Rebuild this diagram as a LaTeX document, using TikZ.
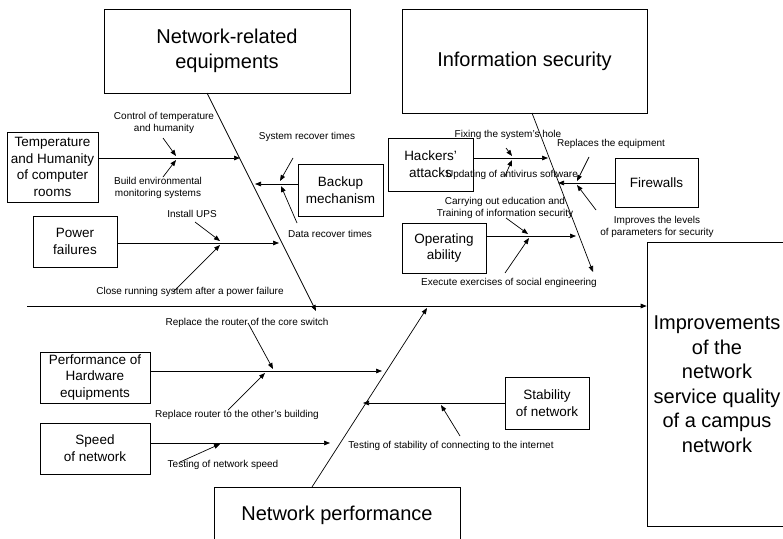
\documentclass[tikz,border=0pt]{standalone}
\usepackage{fontspec}
\setmainfont{Liberation Sans}
\usetikzlibrary{arrows.meta}
\tikzset{
  box/.style={draw, line width=0.7pt, inner sep=0pt, align=center},
  big/.style={font=\fontsize{20}{24.5}\selectfont},
  mid/.style={font=\fontsize{13.5}{16.7}\selectfont},
  lbl/.style={font=\fontsize{10}{12}\selectfont, align=center, inner sep=0pt},
  arr/.style={line width=0.7pt, -{Triangle[length=6pt,width=4.6pt]}},
}
\begin{document}
\begin{tikzpicture}[x=1pt, y=-1pt]
\useasboundingbox (0,0) rectangle (783,538);

% main categories and effect
\node[box, big, minimum width=246pt, minimum height=84pt] (nre) at (227,51) {Network-related\\equipments};
\node[box, big, minimum width=245pt, minimum height=104pt] (isec) at (524.5,61) {Information security};
\node[box, big, minimum width=246pt, minimum height=56pt] (np) at (337,515) {Network performance};
\node[box, big, minimum width=140pt, minimum height=284pt] (eff) at (717,384) {Improvements\\of the\\network\\service quality\\of a campus\\network};

% causes
\node[box, mid, minimum width=91pt, minimum height=70pt] (temp) at (52.5,167) {Temperature\\and Humanity\\of computer\\rooms};
\node[box, mid, minimum width=85pt, minimum height=52pt] (backup) at (340.5,190) {Backup\\mechanism};
\node[box, mid, minimum width=84pt, minimum height=51pt] (power) at (75,241.5) {Power\\failures};
\node[box, mid, minimum width=85pt, minimum height=53pt] (hack) at (430.5,164.5) {Hackers’\\attacks};
\node[box, mid, minimum width=83pt, minimum height=49pt] (fw) at (656.5,182.5) {Firewalls};
\node[box, mid, minimum width=84pt, minimum height=50pt] (op) at (444,248) {Operating\\ability};
\node[box, mid, minimum width=110pt, minimum height=51pt] (perf) at (95,377.5) {Performance of\\Hardware\\equipments};
\node[box, mid, minimum width=110pt, minimum height=51pt] (speed) at (95,448.5) {Speed\\of network};
\node[box, mid, minimum width=84pt, minimum height=52pt] (stab) at (547,403) {Stability\\of network};

% sub-cause labels
\node[lbl] (l1) at (164,123) {Control of temperature\\and humanity};
\node[lbl] (l2) at (158,187.5) {Build environmental\\monitoring systems};
\node[lbl] (l3) at (307,137) {System recover times};
\node[lbl] (l4) at (330,234) {Data recover times};
\node[lbl] (l5) at (192,214) {Install UPS};
\node[lbl] (l6) at (190,292) {Close running system after a power failure};
\node[lbl] (l7) at (508,135) {Fixing the system’s hole};
\node[lbl] (l8) at (512,175) {Updating of antivirus software};
\node[lbl] (l9) at (611,144) {Replaces the equipment};
\node[lbl] (l10) at (657,226.5) {Improves the levels\\of parameters for security};
\node[lbl] (l11) at (505,207.5) {Carrying out education and\\Training of information security};
\node[lbl] (l12) at (509,283) {Execute exercises of social engineering};
\node[lbl] (l13) at (247,323) {Replace the router of the core switch};
\node[lbl] (l14) at (237,415) {Replace router to the other’s building};
\node[lbl] (l15) at (223,465) {Testing of network speed};
\node[lbl] (l16) at (451,446) {Testing of stability of connecting to the internet};

% spine and main bones
\coordinate (sp0) at (27,306);
\coordinate (nre0) at (207,93);   \coordinate (nre1) at (316,311);
\coordinate (is0) at (532,113);   \coordinate (is1) at (593,272);
\coordinate (np0) at (312,487);   \coordinate (np1) at (427,308);
\draw[arr] (sp0) -- (eff.west |- sp0);
\draw[arr] (nre0) -- (nre1);
\draw[arr] (is0) -- (is1);
\draw[arr] (np0) -- (np1);

% branch tips on the bones
\coordinate (b1) at (240,158);
\coordinate (b2) at (255,184);
\coordinate (b3) at (279,243);
\coordinate (b4) at (548,158);
\coordinate (b5) at (558,183);
\coordinate (b6) at (576,236);
\coordinate (b7) at (382,371);
\coordinate (b8) at (330,443);
\coordinate (b9) at (363,403);
\draw[arr] (temp.east |- b1) -- (b1);
\draw[arr] (backup.west |- b2) -- (b2);
\draw[arr] (power.east |- b3) -- (b3);
\draw[arr] (hack.east |- b4) -- (b4);
\draw[arr] (fw.west |- b5) -- (b5);
\draw[arr] (op.east |- b6) -- (b6);
\draw[arr] (perf.east |- b7) -- (b7);
\draw[arr] (speed.east |- b8) -- (b8);
\draw[arr] (stab.west |- b9) -- (b9);

% sub-cause arrows: start points s*, tips t* on the branches
\coordinate (s1) at (163,138);  \coordinate (t1) at (176,156);
\coordinate (s2) at (163,177);  \coordinate (t2) at (176,160);
\coordinate (s3) at (293,158);  \coordinate (t3) at (280,181);
\coordinate (s4) at (297,223);  \coordinate (t4) at (281,186);
\coordinate (s5) at (195,222);  \coordinate (t5) at (220,241);
\coordinate (s6) at (173,292);  \coordinate (t6) at (220,245);
\coordinate (s7) at (506,148);  \coordinate (t7) at (512,156);
\coordinate (s8) at (505,176);  \coordinate (t8) at (512,160);
\coordinate (s9) at (589,157);  \coordinate (t9) at (577,181);
\coordinate (s10) at (596,210); \coordinate (t10) at (577,185);
\coordinate (s11) at (506,218); \coordinate (t11) at (528,234);
\coordinate (s12) at (505,273); \coordinate (t12) at (529,238);
\coordinate (s13) at (248,323); \coordinate (t13) at (273,369);
\coordinate (s14) at (228,410); \coordinate (t14) at (265,373);
\coordinate (s15) at (180,462); \coordinate (t15) at (220,444);
\coordinate (s16) at (460,436); \coordinate (t16) at (441,405);
\foreach \i in {1,...,16}{
  \draw[arr] (s\i) -- (t\i);
}
\end{tikzpicture}
\end{document}
